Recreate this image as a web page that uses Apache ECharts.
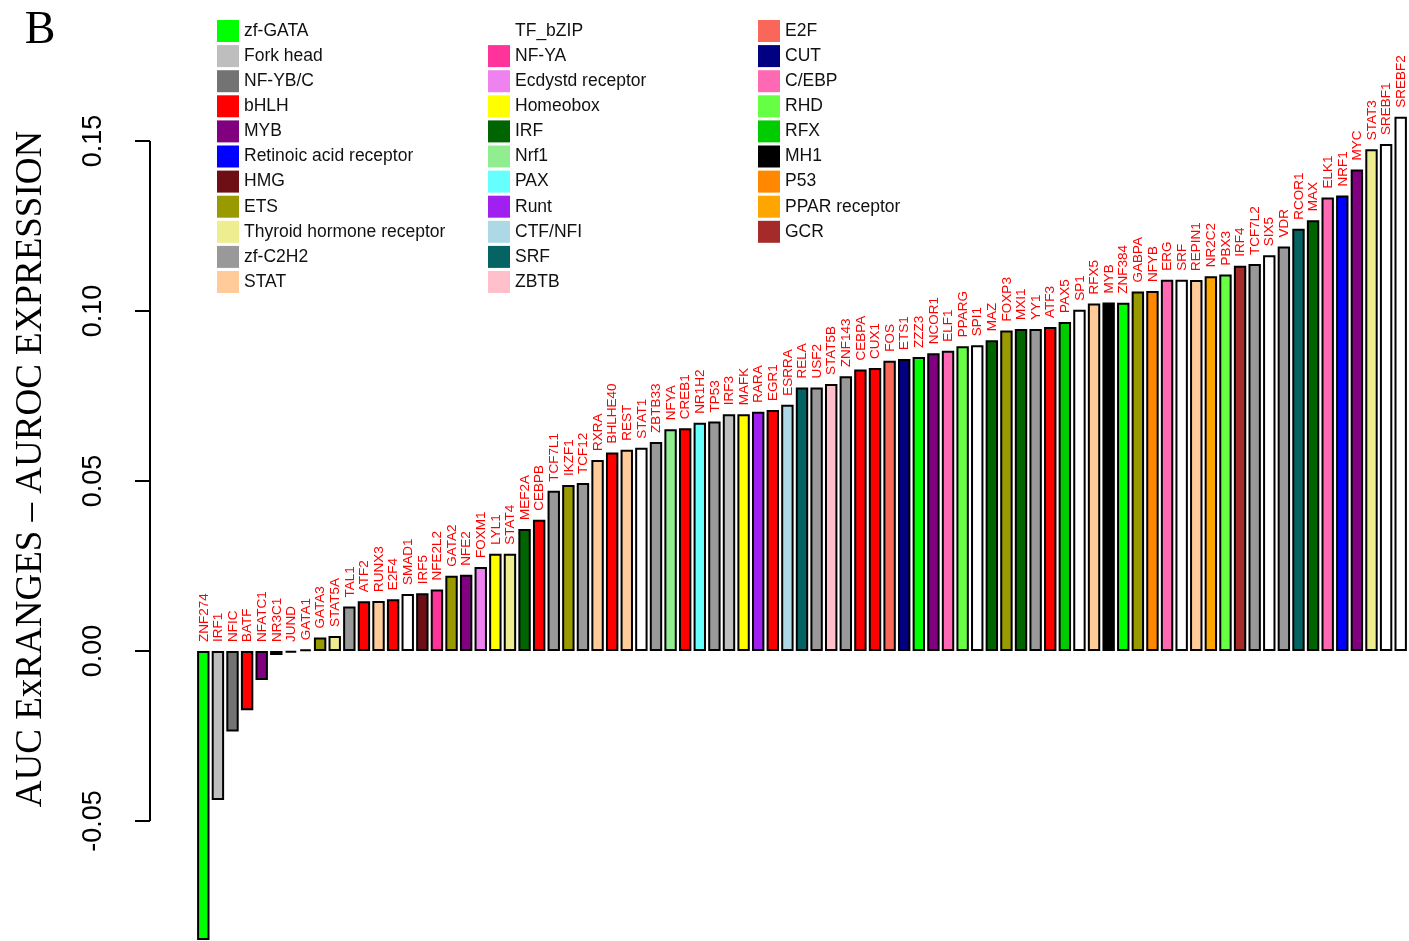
<!DOCTYPE html>
<html>
<head>
<meta charset="utf-8">
<script src="https://cdn.jsdelivr.net/npm/echarts@6/dist/echarts.min.js"></script>
<style>
  html, body { margin: 0; padding: 0; background: #ffffff; }
  #chart { width: 1409px; height: 941px; }
</style>
</head>
<body>
<div id="chart"></div>
<script>
// Transcription factors, sorted by score
const factors = [
  'ZNF274','IRF1','NFIC','BATF','NFATC1','NR3C1','JUND','GATA1','GATA3','STAT5A',
  'TAL1','ATF2','RUNX3','E2F4','SMAD1','IRF5','NFE2L2','GATA2','NFE2','FOXM1',
  'LYL1','STAT4','MEF2A','CEBPB','TCF7L1','IKZF1','TCF12','RXRA','BHLHE40','REST',
  'STAT1','ZBTB33','NFYA','CREB1','NR1H2','TP53','IRF3','MAFK','RARA','EGR1',
  'ESRRA','RELA','USF2','STAT5B','ZNF143','CEBPA','CUX1','FOS','ETS1','ZZZ3',
  'NCOR1','ELF1','PPARG','SPI1','MAZ','FOXP3','MXI1','YY1','ATF3','PAX5',
  'SP1','RFX5','MYB','ZNF384','GABPA','NFYB','ERG','SRF','REPIN1','NR2C2',
  'PBX3','IRF4','TCF7L2','SIX5','VDR','RCOR1','MAX','ELK1','NRF1','MYC',
  'STAT3','SREBF1','SREBF2'
];

// AUC ExRANGES minus AUROC expression, one per factor
const scores = [
  -0.0850,-0.0438,-0.0237,-0.0174,-0.0085,-0.0012,-0.0005,0.0005,0.0040,0.0044,
  0.0131,0.0146,0.0147,0.0152,0.0168,0.0170,0.0181,0.0221,0.0224,0.0247,
  0.0286,0.0286,0.0359,0.0386,0.0471,0.0488,0.0494,0.0562,0.0584,0.0592,
  0.0598,0.0615,0.0652,0.0655,0.0671,0.0675,0.0696,0.0696,0.0704,0.0709,
  0.0724,0.0775,0.0775,0.0785,0.0808,0.0828,0.0832,0.0854,0.0859,0.0865,
  0.0876,0.0883,0.0896,0.0899,0.0914,0.0943,0.0947,0.0947,0.0953,0.0968,
  0.1004,0.1022,0.1025,0.1024,0.1057,0.1059,0.1092,0.1092,0.1091,0.1102,
  0.1107,0.1133,0.1138,0.1164,0.1190,0.1242,0.1267,0.1334,0.1340,0.1416,
  0.1476,0.1491,0.1571
];

// DNA-binding family of each factor
const families = [
  'zf-GATA','Fork head','NF-YB/C','bHLH','MYB','CUT','TF_bZIP','zf-GATA','ETS','Thyroid hormone receptor',
  'zf-C2H2','bHLH','STAT','bHLH','TF_bZIP','HMG','NF-YA','ETS','MYB','Ecdystd receptor',
  'Homeobox','Thyroid hormone receptor','IRF','bHLH','zf-C2H2','ETS','zf-C2H2','STAT','bHLH','STAT',
  'TF_bZIP','zf-C2H2','Nrf1','bHLH','PAX','zf-C2H2','Fork head','Homeobox','Runt','bHLH',
  'CTF/NFI','SRF','zf-C2H2','ZBTB','zf-C2H2','bHLH','bHLH','E2F','CUT','zf-GATA',
  'MYB','C/EBP','RHD','TF_bZIP','IRF','ETS','IRF','zf-C2H2','bHLH','RFX',
  'TF_bZIP','STAT','MH1','zf-GATA','ETS','P53','C/EBP','TF_bZIP','STAT','PPAR receptor',
  'RHD','GCR','zf-C2H2','TF_bZIP','zf-C2H2','SRF','IRF','C/EBP','Retinoic acid receptor','MYB',
  'Thyroid hormone receptor','TF_bZIP','TF_bZIP'
];

// Legend columns
const legendCol1 = ['zf-GATA','Fork head','NF-YB/C','bHLH','MYB','Retinoic acid receptor','HMG','ETS','Thyroid hormone receptor','zf-C2H2','STAT'];
const legendCol2 = ['TF_bZIP','NF-YA','Ecdystd receptor','Homeobox','IRF','Nrf1','PAX','Runt','CTF/NFI','SRF','ZBTB'];
const legendCol3 = ['E2F','CUT','C/EBP','RHD','RFX','MH1','P53','PPAR receptor','GCR'];

const familyColors = {
  'zf-GATA':'#00FF00','Fork head':'#BEBEBE','NF-YB/C':'#737373','bHLH':'#FF0000','MYB':'#800080',
  'Retinoic acid receptor':'#0000FF','HMG':'#6E0F16','ETS':'#999900','Thyroid hormone receptor':'#EEEE90',
  'zf-C2H2':'#999999','STAT':'#FFCC99','TF_bZIP':'#FFFFFF','NF-YA':'#FF3399','Ecdystd receptor':'#EE82EE',
  'Homeobox':'#FFFF00','IRF':'#006400','Nrf1':'#90EE90','PAX':'#66FFFF','Runt':'#A020F0','CTF/NFI':'#ADD8E6',
  'SRF':'#056363','ZBTB':'#FFC0CB','E2F':'#F8675A','CUT':'#000080','C/EBP':'#FF69B4','RHD':'#66FF44',
  'RFX':'#00CC00','MH1':'#000000','P53':'#FF8800','PPAR receptor':'#FFA500','GCR':'#A52A2A'
};

// Value-axis ticks
const tickValues = [-0.05, 0, 0.05, 0.10, 0.15];
const tickLabels = ['-0.05', '0.00', '0.05', '0.10', '0.15'];

const familyList = legendCol1.concat(legendCol2, legendCol3);

// one overlapping bar series per family so the legend can list them
const barSeries = familyList.map(function (fam) {
  return {
    name: fam,
    type: 'bar',
    barGap: '-100%',
    barWidth: 12.4,
    animation: false,
    itemStyle: { color: familyColors[fam], borderColor: '#000000', borderWidth: 2 },
    emphasis: { disabled: true },
    data: scores.map(function (v, i) { return families[i] === fam ? v : '-'; })
  };
});

// factor names above each bar (above zero for negative bars)
const nameSeries = {
  type: 'custom',
  animation: false,
  silent: true,
  data: scores.map(function (v, i) { return [i, v]; }),
  renderItem: function (params, api) {
    const p = api.coord([api.value(0), Math.max(0, api.value(1))]);
    return {
      type: 'text',
      x: p[0] + 0.5,
      y: p[1] - 9,
      rotation: Math.PI / 2,
      style: {
        text: factors[params.dataIndex],
        fill: '#FF0000',
        font: '13.5px "Liberation Sans", Arial, sans-serif',
        align: 'left',
        verticalAlign: 'middle'
      }
    };
  }
};

function legendFor(list, left) {
  return {
    data: list,
    orient: 'vertical',
    left: left,
    top: 20,
    itemWidth: 22,
    itemHeight: 22,
    itemGap: 3.1,
    icon: 'rect',
    selectedMode: false,
    itemStyle: { borderWidth: 0 },
    textStyle: { color: '#111111', fontSize: 17.5, fontFamily: '"Liberation Sans", Arial, sans-serif', padding: [2, 0, 0, 0] },
    padding: 0
  };
}

const chart = echarts.init(document.getElementById('chart'), null, { renderer: 'canvas' });

chart.setOption({
  backgroundColor: '#ffffff',
  animation: false,
  grid: { left: 196, right: 1, top: 107, bottom: 1, containLabel: false },
  xAxis: {
    type: 'category',
    data: factors,
    show: false,
    boundaryGap: true
  },
  yAxis: {
    type: 'value',
    min: -0.085,
    max: 0.16,
    show: false
  },
  legend: [legendFor(legendCol1, 217), legendFor(legendCol2, 488), legendFor(legendCol3, 758)],
  series: barSeries.concat([nameSeries])
});

// left value axis: line, ticks and rotated labels
const axisX = 150;
const yTop = chart.convertToPixel({ yAxisIndex: 0 }, tickValues[tickValues.length - 1]);
const yBottom = chart.convertToPixel({ yAxisIndex: 0 }, tickValues[0]);
const axisGraphics = [{
  type: 'line',
  shape: { x1: axisX, y1: yTop, x2: axisX, y2: yBottom },
  style: { stroke: '#000000', lineWidth: 2 }
}];
tickValues.forEach(function (v, i) {
  const y = chart.convertToPixel({ yAxisIndex: 0 }, v);
  axisGraphics.push({
    type: 'line',
    shape: { x1: axisX - 15, y1: y, x2: axisX, y2: y },
    style: { stroke: '#000000', lineWidth: 2 }
  });
  axisGraphics.push({
    type: 'text',
    x: 94,
    y: y,
    rotation: Math.PI / 2,
    style: {
      text: tickLabels[i],
      fill: '#000000',
      font: '27px "Liberation Sans", Arial, sans-serif',
      align: 'center',
      verticalAlign: 'middle'
    }
  });
});
axisGraphics.push({
  type: 'text',
  x: 31,
  y: 469,
  rotation: Math.PI / 2,
  style: {
    text: 'AUC ExRANGES \u2013 AUROC EXPRESSION',
    fill: '#000000',
    font: '37px "Liberation Serif", "Times New Roman", serif',
    align: 'center',
    verticalAlign: 'middle'
  }
});
axisGraphics.push({
  type: 'text',
  x: 40,
  y: 31,
  style: {
    text: 'B',
    fill: '#000000',
    font: '46px "Liberation Serif", "Times New Roman", serif',
    align: 'center',
    verticalAlign: 'middle'
  }
});
chart.setOption({ graphic: axisGraphics });
</script>
</body>
</html>
